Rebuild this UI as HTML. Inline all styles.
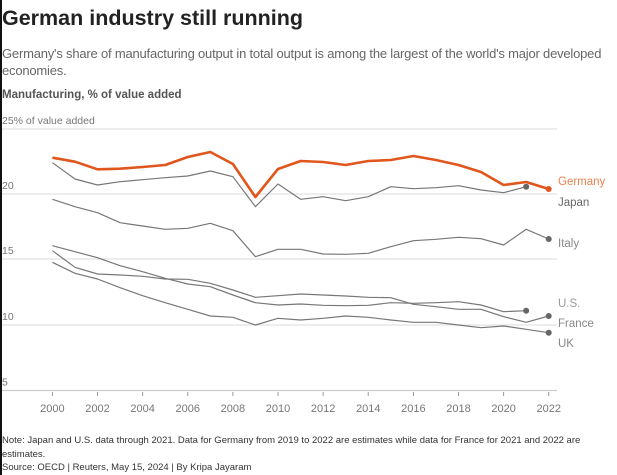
<!DOCTYPE html>
<html><head><meta charset="utf-8"><style>
body{margin:0;background:#fff;width:617px;height:475px;overflow:hidden;font-family:"Liberation Sans",sans-serif;position:relative}
.t{position:absolute;left:2px;white-space:nowrap}
</style></head><body>
<div style="position:absolute;left:0;top:0;width:2px;height:475px;background:#111"></div>
<div class="t" style="top:6px;font-size:21.5px;font-weight:bold;color:#222">German industry still running</div>
<div class="t" style="top:45px;font-size:13px;color:#666;line-height:17px;letter-spacing:-0.2px">Germany's share of manufacturing output in total output is among the largest of the world's major developed<br>economies.</div>
<div class="t" style="top:89px;font-size:11.5px;font-weight:bold;color:#555">Manufacturing, % of value added</div>
<div class="t" style="top:434px;font-size:9.5px;color:#333;line-height:13.5px">Note: Japan and U.S. data through 2021. Data for Germany from 2019 to 2022 are estimates while data for France for 2021 and 2022 are<br>estimates.<br>Source: OECD | Reuters, May 15, 2024 | By Kripa Jayaram</div>
<svg id="s" width="617" height="475" style="position:absolute;left:0;top:0" font-family="Liberation Sans, sans-serif"></svg>
<script>
var s=document.getElementById('s'),h='';
var X=function(i){return 52.4+22.56*i};
[[129,'25% of value added'],[194,'20'],[259,'15'],[325,'10'],[390.5,'5']].forEach(function(g,k){
h+='<line x1="2" x2="557" y1="'+g[0]+'" y2="'+g[0]+'" stroke="'+(k==4?'#ccc':'#e2e2e2')+'" stroke-width="1.3"/>';
h+='<text x="2" y="'+(g[0]-5)+'" font-size="10.5" fill="#777">'+g[1]+'</text>';});
for(var i=0;i<=22;i+=2){h+='<line x1="'+X(i)+'" x2="'+X(i)+'" y1="392" y2="396" stroke="#999"/>';
h+='<text x="'+X(i)+'" y="412" font-size="11" fill="#777" text-anchor="middle">'+(2000+i)+'</text>';}
var D={
UK:[262.3,273.3,279,287.7,295.7,302.7,309.3,316,317.3,325,318.3,320,318.3,316,317.3,320,322.3,322.3,325,327.7,326,329.3,332.7],
France:[250.7,267.3,274,275,276.3,279,279.3,283.3,290,297.3,295.7,294,295,296,297.3,297.7,304.3,306.7,309.3,309.3,316.7,322.3,316],
US:[245.7,251.7,257.7,265.7,271.7,278.3,284,286.7,295,302.7,305,304,305.3,305.7,305.3,302.7,303.3,302.7,301.7,305,311.7,310.7],
Italy:[199.3,206.7,212.7,222.7,226,229.3,228.3,223.3,230.7,256.7,249.3,249.3,254,254.3,253.3,246.7,240.7,239.3,237.3,238.7,245,229.3,239],
Japan:[162.7,179,185,181.7,179.7,177.7,176,171,176.7,206.7,184,199.3,196.7,200.7,196.7,186.7,188.7,187.7,185.7,190,192.7,186.7],
Germany:[157.7,161.7,169.3,168.7,167,165,157,152,164,197,169,161,162,165,161,160,156,160,165,172,185,182,189]};
for(var k in D){var a=D[k],p=a.map(function(v,i){return X(i).toFixed(1)+','+v}).join(' ');
var g=k=='Germany';
h+='<polyline points="'+p+'" fill="none" stroke="'+(g?'#e0561c':'#777')+'" stroke-width="'+(g?2.6:1.2)+'" stroke-linejoin="round"/>';
h+='<circle cx="'+X(a.length-1)+'" cy="'+a[a.length-1]+'" r="3" fill="'+(g?'#e0561c':'#666')+'"/>';}
[['Germany',185,'#e8834f'],['Japan',206,'#666'],['Italy',247,'#888'],['U.S.',307,'#999'],['France',327,'#888'],['UK',347,'#888']].forEach(function(l){
h+='<text x="558" y="'+l[1]+'" font-size="11.5" fill="'+l[2]+'">'+l[0]+'</text>';});
s.innerHTML=h;
</script>
</body></html>
